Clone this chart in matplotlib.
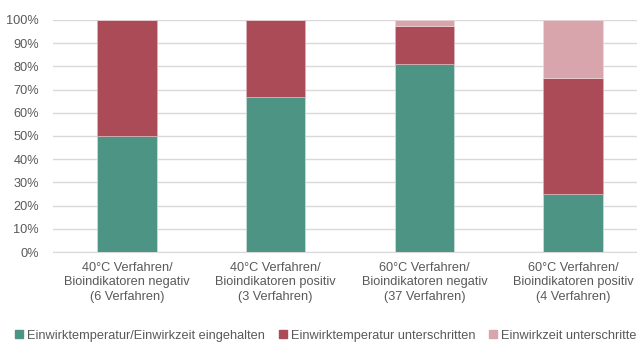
import numpy as np
import matplotlib.pyplot as plt
from matplotlib.patches import Patch

plt.rcParams['font.family'] = ['Liberation Sans', 'DejaVu Sans']

# Kategorien und Anteile (in %)
kategorien = ['40°C Verfahren/\nBioindikatoren negativ\n(6 Verfahren)',
              '40°C Verfahren/\nBioindikatoren positiv\n(3 Verfahren)',
              '60°C Verfahren/\nBioindikatoren negativ\n(37 Verfahren)',
              '60°C Verfahren/\nBioindikatoren positiv\n(4 Verfahren)']
eingehalten = [50.0, 66.7, 81.1, 25.0]
temp_unter = [50.0, 33.3, 16.2, 50.0]
zeit_unter = [0.0, 0.0, 2.7, 25.0]

serien = ['Einwirktemperatur/Einwirkzeit eingehalten',
          'Einwirktemperatur unterschritten',
          'Einwirkzeit unterschritten']
farben = ['#4E9484', '#AC4B58', '#D8A5AD']
grau = '#595959'
fs = 9.2

fig = plt.figure(figsize=(6.37, 3.43), dpi=100)
ax = fig.add_axes([0.083, 0.265, 0.933, 0.677])

x = np.arange(len(kategorien))
b = 0.4
ax.bar(x, eingehalten, b, color=farben[0], edgecolor='#CFE0DB', linewidth=0.5, zorder=3)
ax.bar(x, temp_unter, b, bottom=eingehalten, color=farben[1], edgecolor='#D9B5BA', linewidth=0.5, zorder=3)
unten = np.array(eingehalten) + np.array(temp_unter)
ax.bar(x, zeit_unter, b, bottom=unten, color=farben[2], edgecolor='#EED8DB', linewidth=0.5, zorder=3)

ax.set_xlim(-0.5, 3.5)
ax.set_ylim(0, 100)
ax.set_yticks(range(0, 101, 10))
ax.set_yticklabels([f'{v}%' for v in range(0, 101, 10)])
ax.set_xticks(x)
ax.set_xticklabels(kategorien, linespacing=1.27)
ax.grid(axis='y', color='#D9D9D9', linewidth=1, zorder=0)
for s in ['top', 'right', 'left']:
    ax.spines[s].set_visible(False)
ax.spines['bottom'].set_color('#D9D9D9')
ax.tick_params(axis='both', length=0, colors=grau, labelsize=fs)
ax.tick_params(axis='x', pad=7)
ax.tick_params(axis='y', pad=10)

handles = [Patch(color=c) for c in farben]
fig.legend(handles, serien, loc='lower left', bbox_to_anchor=(0.006, -0.03),
           ncol=3, frameon=False, fontsize=fs, labelcolor=grau,
           handlelength=0.6, handleheight=0.6, handletextpad=0.3, columnspacing=1.12)

fig.savefig('out.png', dpi=100)
